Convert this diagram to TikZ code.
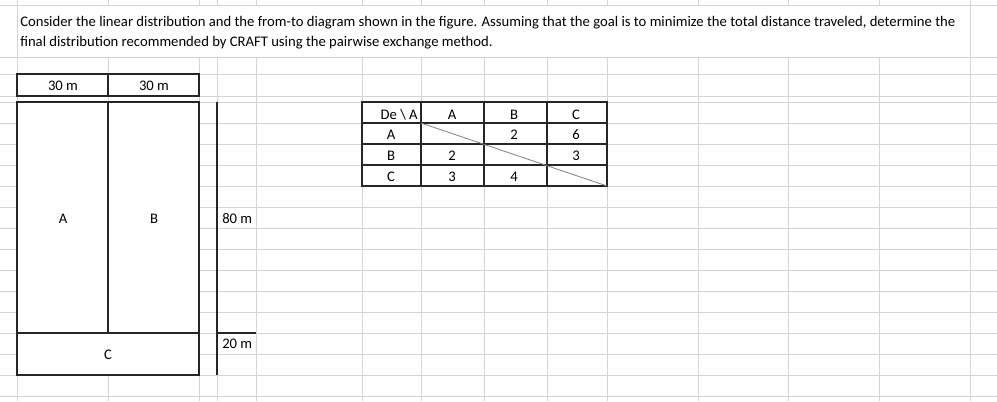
\documentclass[tikz,border=0pt]{standalone}
\usepackage{fontspec}
\setmainfont{Carlito}

\tikzset{
  gridline/.style={draw=black!17, line width=0.75pt},
  frame/.style={draw=black!85, line width=0.9pt},
  diag/.style={draw=black!50, line width=0.6pt},
  cell/.style={anchor=base, inner sep=0pt, font=\fontsize{11}{13}\selectfont},
}

\begin{document}
\begin{tikzpicture}[x=0.75pt, y=-0.75pt]
        \useasboundingbox (0,0) rectangle (997,401);
        \fill[white] (0,0) rectangle (997,401);

        % sheet grid
        \foreach \y in {5,57,74,96,102,123,...,396}
            \draw[gridline] (0,\y) -- (997,\y);
        \foreach \x in {17,970}
            \draw[gridline] (\x,0) -- (\x,401);
        \foreach \x in {108,199,217,256,362,421,484,547,607,698,788,879} {
            \draw[gridline] (\x,0) -- (\x,5);
            \draw[gridline] (\x,57) -- (\x,401);
        }

        % statement
        \node[cell, anchor=base west] (line1) at (20,26) {Consider the linear distribution and the from-to diagram shown in the figure. Assuming that the goal is to minimize the total distance traveled, determine the};
        \node[cell, anchor=base west] (line2) at (20,46) {final distribution recommended by CRAFT using the pairwise exchange method.};

        % widths
        \draw[frame, fill=white] (17,74) rectangle (199,96);
        \draw[frame] (108,74) -- (108,96);
        \node[cell] (wa) at (63,90) {30 m};
        \node[cell] (wb) at (154,90) {30 m};

        % layout
        \draw[frame, fill=white] (17,102) rectangle (199,375);
        \draw[frame] (108,102) -- (108,333);
        \draw[frame] (17,333) -- (199,333);
        \node[cell] (dA) at (63,223) {A};
        \node[cell] (dB) at (154,223) {B};
        \node[cell] (dC) at (108,359) {C};

        % heights
        \draw[frame] (217,102) -- (217,375);
        \draw[frame] (217,333) -- (256,333);
        \node[cell, anchor=base west] (hab) at (222,223) {80 m};
        \node[cell, anchor=base west] (hc) at (222,348) {20 m};

        % from-to chart
        \draw[frame, fill=white] (362,102) rectangle (607,186);
        \foreach \x in {421,484,547}
            \draw[frame] (\x,102) -- (\x,186);
        \foreach \y in {123,144,165}
            \draw[frame] (362,\y) -- (607,\y);
        \draw[diag] (421,123) -- (607,186);

        \node[cell, anchor=base east] (tde) at (418,119) {De \textbackslash\ A};
        \node[cell] (tcA) at (452,119) {A};
        \node[cell] (tcB) at (514,119) {B};
        \node[cell] (tcC) at (576,119) {C};

        \node[cell] (trA) at (391,139.5) {A};
        \node[cell] (tAB) at (514,139.5) {2};
        \node[cell] (tAC) at (576,139.5) {6};

        \node[cell] (trB) at (391,160) {B};
        \node[cell] (tBA) at (452,160) {2};
        \node[cell] (tBC) at (576,160) {3};

        \node[cell] (trC) at (391,181) {C};
        \node[cell] (tCA) at (452,181) {3};
        \node[cell] (tCB) at (514,181) {4};
    \end{tikzpicture}
\end{document}
